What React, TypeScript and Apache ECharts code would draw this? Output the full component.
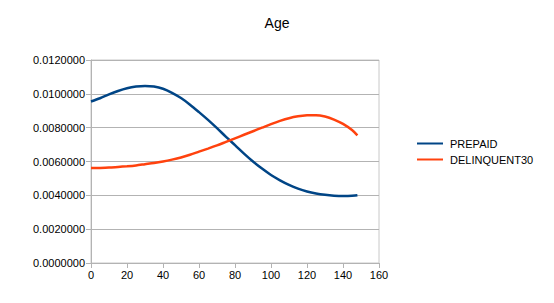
import React, { useEffect, useRef } from "react";
import * as echarts from "echarts";

const ages = [0, 5, 10, 15, 20, 25, 30, 35, 40, 45, 50, 55, 60, 65, 70, 75, 80, 85, 90, 95, 100, 105, 110, 115, 120, 125, 130, 135, 140, 145, 148];
const prepaid = [0.00955, 0.00974, 0.00997, 0.01017, 0.01033, 0.01043, 0.01047, 0.01043, 0.0103, 0.01006, 0.00975, 0.00936, 0.00892, 0.00846, 0.00797, 0.00746, 0.00697, 0.00647, 0.006, 0.00558, 0.0052, 0.00489, 0.00462, 0.0044, 0.00423, 0.00411, 0.00403, 0.00398, 0.00396, 0.00397, 0.004];
const delinquent30 = [0.00561, 0.00562, 0.00564, 0.00568, 0.00572, 0.00577, 0.00584, 0.00591, 0.006, 0.00611, 0.00624, 0.0064, 0.00658, 0.00676, 0.00695, 0.00716, 0.00737, 0.00758, 0.00779, 0.008, 0.00821, 0.0084, 0.00856, 0.00867, 0.00873, 0.00874, 0.00866, 0.00848, 0.00822, 0.00786, 0.00755];
const seriesNames = ["PREPAID", "DELINQUENT30"];
const chartTitle = "Age";

export default function App() {
  const ref = useRef<HTMLDivElement>(null);
  useEffect(() => {
    if (!ref.current) return;
    const chart = echarts.init(ref.current, null, { renderer: "svg" });
    const font = "'Liberation Sans', Arial, sans-serif";
    chart.setOption({
      animation: false,
      backgroundColor: "#ffffff",
      title: {
        text: chartTitle,
        left: "center",
        top: 11,
        textStyle: { fontFamily: font, fontSize: 14, fontWeight: "normal", color: "#000" },
      },
      legend: {
        orient: "vertical",
        left: 412,
        top: 133,
        itemWidth: 26,
        itemHeight: 10,
        itemGap: 5,
        icon: "path://M0,4 L26,4 L26,6 L0,6 Z",
        textStyle: { fontFamily: font, fontSize: 11, color: "#000", padding: [0, 0, 0, 2] },
        data: seriesNames,
      },
      grid: {
        left: 91,
        right: 175,
        top: 60,
        bottom: 40,
        show: true,
        borderColor: "#c8c8c8",
        borderWidth: 1,
      },
      xAxis: {
        type: "value",
        min: 0,
        max: 160,
        interval: 20,
        axisLine: { show: true, lineStyle: { color: "#b3b3b3" } },
        axisTick: { show: true, length: 5, lineStyle: { color: "#b3b3b3" } },
        axisLabel: { fontFamily: font, fontSize: 11, color: "#000", margin: 6 },
        splitLine: { show: false },
      },
      yAxis: {
        type: "value",
        min: 0,
        max: 0.012,
        interval: 0.002,
        axisLine: { show: true, lineStyle: { color: "#b3b3b3" } },
        axisTick: { show: true, length: 5, lineStyle: { color: "#b3b3b3" } },
        axisLabel: {
          fontFamily: font,
          fontSize: 11,
          color: "#000",
          margin: 6,
          formatter: (v: number) => v.toFixed(7),
        },
        splitLine: { show: true, lineStyle: { color: "#b3b3b3" } },
      },
      series: [
        {
          name: seriesNames[0],
          type: "line",
          smooth: 0.3,
          showSymbol: false,
          symbol: "none",
          lineStyle: { color: "#004586", width: 2.5 },
          itemStyle: { color: "#004586" },
          data: ages.map((a, i) => [a, prepaid[i]]),
        },
        {
          name: seriesNames[1],
          type: "line",
          smooth: 0.3,
          showSymbol: false,
          symbol: "none",
          lineStyle: { color: "#ff420e", width: 2.5 },
          itemStyle: { color: "#ff420e" },
          data: ages.map((a, i) => [a, delinquent30[i]]),
        },
      ],
    });
    return () => chart.dispose();
  }, []);
  return (
    <div
      ref={ref}
      style={{ position: "absolute", left: 0, top: 0, width: 554, height: 303 }}
    />
  );
}
